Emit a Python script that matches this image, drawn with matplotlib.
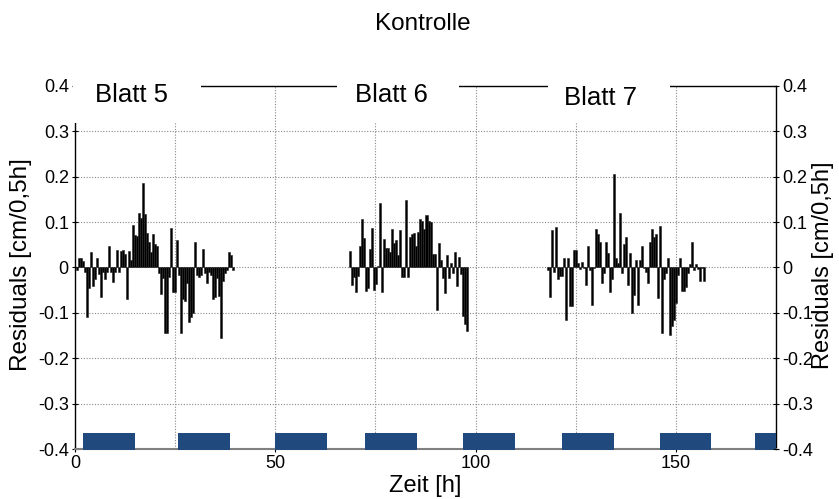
import numpy as np
import matplotlib
matplotlib.use('Agg')
import matplotlib.pyplot as plt
from matplotlib.patches import Rectangle
from matplotlib.ticker import FuncFormatter, MultipleLocator

plt.rcParams['font.family'] = ['Liberation Sans', 'DejaVu Sans']
plt.rcParams['axes.unicode_minus'] = False

# Residuen je 0,5 h, drei Blätter
blatt5_start = 0.5
blatt5 = [-0.005, 0.02, 0.02, 0.015, -0.01, -0.11, -0.045, 0.035, -0.04, -0.025,
          0.02, -0.015, -0.065, -0.01, -0.025, -0.01, 0.048, -0.01, -0.033, -0.01,
          0.038, -0.01, 0.037, 0.038, 0.03, -0.07, 0.036, 0.016, 0.094, 0.072,
          0.07, 0.12, 0.11, 0.186, 0.117, 0.077, 0.057, 0.034, 0.074, 0.052,
          0.047, -0.012, -0.059, -0.023, -0.145, -0.145, -0.02, 0.087, -0.055, -0.054,
          0.06, -0.016, -0.145, -0.07, -0.073, -0.034, -0.12, -0.11, -0.1, 0.056,
          -0.016, -0.02, -0.016, 0.04, -0.012, -0.035, -0.009, -0.016, -0.07, -0.066,
          -0.023, -0.062, -0.155, -0.03, -0.012, -0.005, 0.034, 0.027, -0.006]

blatt6_start = 68.75
blatt6 = [0.036, -0.038, -0.02, -0.054, -0.019, 0.047, 0.107, 0.066, -0.051, -0.045,
          0.041, 0.087, -0.049, -0.036, 0.003, 0.142, -0.054, 0.062, 0.044, 0.042,
          0.034, 0.084, 0.055, 0.06, 0.027, 0.082, -0.02, -0.02, 0.149, -0.02,
          0.067, 0.073, 0.075, 0.048, 0.079, 0.107, 0.102, 0.084, 0.116, 0.102,
          0.1, 0.029, 0.03, -0.093, 0.053, 0.016, -0.024, -0.057, 0.027, -0.024,
          0.01, -0.013, 0.034, -0.04, 0.023, -0.014, -0.106, -0.124, -0.14]

blatt7_start = 118.0
blatt7 = [-0.005, -0.064, 0.082, -0.009, 0.09, -0.025, -0.018, -0.018, 0.022, -0.116,
          0.02, -0.084, -0.084, 0.039, 0.038, 0.009, -0.004, 0.011, -0.001, -0.039,
          0.047, -0.005, -0.082, -0.001, 0.085, 0.074, 0.056, -0.034, -0.012, 0.056,
          0.032, -0.055, -0.025, 0.206, 0.02, 0.009, 0.119, -0.012, 0.052, 0.068,
          -0.039, 0.031, -0.1, -0.061, 0.016, -0.082, 0.016, 0.047, -0.001, -0.011,
          -0.034, 0.056, 0.085, 0.067, 0.074, -0.068, 0.092, -0.145, -0.025, -0.012,
          0.02, -0.148, -0.13, -0.116, -0.078, -0.016, 0.022, -0.052, -0.052, -0.044,
          -0.012, 0.008, 0.057, -0.005, 0.007, -0.004, -0.03, -0.001, -0.03]

# Dunkelphasen [h]
dunkel_start = [2.0, 25.8, 49.9, 72.5, 96.8, 121.6, 146.0, 169.7]
dunkel_ende = [14.9, 38.8, 63.0, 85.3, 109.8, 134.6, 158.8, 175.0]

blatt_namen = ['Blatt 5', 'Blatt 6', 'Blatt 7']

fig = plt.figure(figsize=(8.39, 4.99), dpi=100)
ax = fig.add_axes([0.0894, 0.1002, 0.8355, 0.7275])

for start, werte in [(blatt5_start, blatt5), (blatt6_start, blatt6), (blatt7_start, blatt7)]:
    t = start + 0.5 * np.arange(len(werte))
    ax.bar(t, werte, width=0.5, color='black', edgecolor='#222222',
           linewidth=0.4, zorder=3)

for a, b in zip(dunkel_start, dunkel_ende):
    ax.bar(a, 0.037, width=b - a, bottom=-0.402, align='edge',
           color='#204a7e', linewidth=0, zorder=3, clip_on=False)

ax.set_xlim(0, 175)
ax.set_ylim(-0.4, 0.4)
ax.xaxis.set_major_locator(MultipleLocator(50))
ax.xaxis.set_minor_locator(MultipleLocator(25))
ax.yaxis.set_major_locator(MultipleLocator(0.1))
fmt = FuncFormatter(lambda v, p: '%g' % round(v, 2))
ax.yaxis.set_major_formatter(fmt)
ax.grid(True, which='both', axis='x', color='#888888', linestyle=(0, (1, 1.5)), linewidth=0.8)
ax.grid(True, which='major', axis='y', color='#888888', linestyle=(0, (1, 1.5)), linewidth=0.8)
ax.set_axisbelow(True)
ax.tick_params(axis='both', which='both', direction='inout', length=5, labelsize=13, pad=2)
ax.tick_params(axis='x', which='minor', length=0)

for s in ['left', 'right', 'top']:
    ax.spines[s].set_color('black')
    ax.spines[s].set_linewidth(1)
ax.spines['bottom'].set_color('#808080')
ax.spines['bottom'].set_linewidth(1.5)

ax2 = ax.twinx()
ax2.set_ylim(-0.4, 0.4)
ax2.yaxis.set_major_locator(MultipleLocator(0.1))
ax2.yaxis.set_major_formatter(fmt)
ax2.tick_params(axis='y', direction='inout', length=5, labelsize=13, pad=2)
for s in ax2.spines.values():
    s.set_visible(False)

ax.set_xlabel('Zeit [h]', fontsize=17, labelpad=2)
fig.text(21 / 839, 1 - 265 / 499, 'Residuals [cm/0,5h]', fontsize=17.5,
         rotation=90, ha='center', va='center')
fig.text(812 / 839, 1 - 265 / 499, 'Residuals [cm/0,5h]', fontsize=17,
         rotation=90, ha='left', va='center')

# weiße Felder hinter den Blattbeschriftungen
felder = [(-0.4, 31.5), (65.3, 95.8), (118.0, 148.5)]
pos_x = [14.0, 78.9, 131.1]
pos_y = [0.38, 0.38, 0.373]
for (x0, x1), name, px, py in zip(felder, blatt_namen, pos_x, pos_y):
    ax2.add_patch(Rectangle((x0, 0.318), x1 - x0, 0.15, facecolor='white',
                            edgecolor='none', clip_on=False, zorder=4))
    ax2.text(px, py, name, fontsize=18.5, ha='center', va='center', zorder=5)

fig.text(0.504, 1 - 24 / 499, 'Kontrolle', fontsize=17.5, ha='center', va='center')

fig.savefig('out.png', dpi=100)
